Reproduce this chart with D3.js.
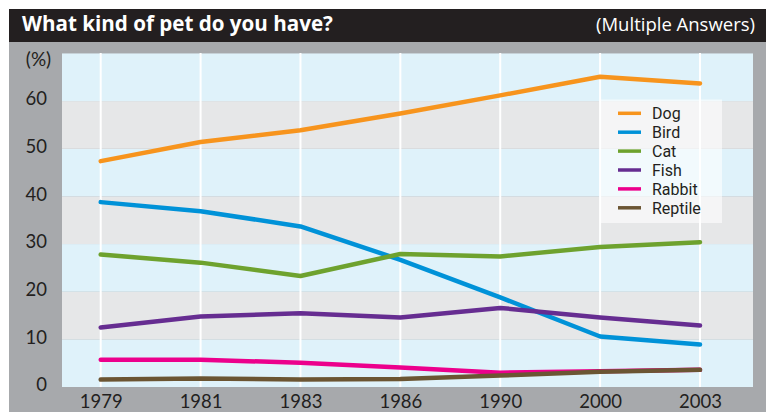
<!DOCTYPE html>
<html><head><meta charset="utf-8">
<script src="https://cdn.jsdelivr.net/npm/d3@7"></script>
<style>html,body{margin:0;padding:0;background:#fff;}svg{display:block;font-family:Lato,"Open Sans",sans-serif;}</style>
</head><body><svg id="c" width="774" height="412"></svg>
<script>
const years = ["1979","1981","1983","1986","1990","2000","2003"];
const seriesNames = ["Dog","Bird","Cat","Fish","Rabbit","Reptile"];
const dog = [47.4, 51.4, 53.9, 57.4, 61.2, 65.1, 63.7];
const bird = [38.8, 36.9, 33.7, 26.7, 18.8, 10.6, 8.9];
const cat = [27.8, 26.1, 23.3, 27.9, 27.4, 29.4, 30.4];
const fish = [12.5, 14.8, 15.5, 14.6, 16.6, 14.6, 12.9];
const rabbit = [5.7, 5.7, 5.1, 4.1, 3.0, 3.3, 3.6];
const reptile = [1.55, 1.8, 1.55, 1.7, 2.4, 3.2, 3.6];
const yTicks = [0, 10, 20, 30, 40, 50, 60];
const colors = ["#f7941d", "#0092d8", "#6ea22e", "#662d91", "#ec008c", "#6b5533"];
const values = [dog, bird, cat, fish, rabbit, reptile];

const svg = d3.select("#c");
const FONT = "Lato, 'Open Sans', sans-serif";
const TFONT = "'Open Sans', sans-serif";
// frame
svg.append("rect").attr("x", 9).attr("y", 42).attr("width", 757).attr("height", 370).attr("fill", "#a7a9ac");
svg.append("rect").attr("x", 9).attr("y", 9).attr("width", 757).attr("height", 33).attr("fill", "#231f20");
svg.append("text").attr("x", 22).attr("y", 31).attr("fill", "#fff").attr("font-weight", "bold")
  .attr("font-family", TFONT).attr("font-size", 20.6).text("What kind of pet do you have?");
svg.append("text").attr("x", 755).attr("y", 31).attr("fill", "#fff").attr("text-anchor", "end")
  .attr("font-family", TFONT).attr("font-size", 18.5).text("(Multiple Answers)");

const plot = {x0: 62, x1: 753, y0: 53, y1: 387};
const y = d3.scaleLinear().domain([0, 70]).range([plot.y1, plot.y1 - 70 * 4.765]);
const x = d3.scalePoint().domain(years).range([100.7, 700]);

// bands
const bands = d3.range(0, 70, 10);
svg.append("g").selectAll("rect").data(bands).join("rect")
  .attr("x", plot.x0).attr("width", plot.x1 - plot.x0)
  .attr("y", d => Math.max(plot.y0, y(d + 10)))
  .attr("height", d => y(d) - Math.max(plot.y0, y(d + 10)))
  .attr("fill", d => (d / 10) % 2 === 0 ? "#dff2fa" : "#e6e7e8");
// vertical gridlines
svg.append("g").selectAll("line").data(years).join("line")
  .attr("x1", d => x(d)).attr("x2", d => x(d)).attr("y1", plot.y0).attr("y2", plot.y1)
  .attr("stroke", "#fff").attr("stroke-width", 2);

// y axis
const yAxis = svg.append("g").attr("transform", `translate(47,0)`)
  .call(d3.axisLeft(y).tickValues(yTicks).tickSize(0).tickPadding(0));
yAxis.select(".domain").remove();
yAxis.selectAll("text").attr("font-size", 18.5).attr("fill", "#231f20").attr("font-family", FONT).attr("dy", "0.2em");
svg.append("text").attr("x", 38.5).attr("y", 66).attr("text-anchor", "middle").attr("font-size", 19)
  .attr("font-family", FONT).attr("fill", "#231f20").text("(%)");

// x axis
const xAxis = svg.append("g").attr("transform", `translate(0,${plot.y1})`)
  .call(d3.axisBottom(x).tickSize(0).tickPadding(0));
xAxis.select(".domain").remove();
xAxis.selectAll("text").attr("font-size", 18.5).attr("fill", "#231f20").attr("font-family", FONT)
  .attr("y", 0).attr("dy", 20.5);

// lines
const line = d3.line().x((d, i) => x(years[i])).y(d => y(d));
svg.append("g").selectAll("path").data(values).join("path")
  .attr("d", d => line(d)).attr("fill", "none")
  .attr("stroke", (d, i) => colors[i]).attr("stroke-width", 4.5)
  .attr("stroke-linecap", "round").attr("stroke-linejoin", "round");

// legend
const lg = svg.append("g");
lg.append("rect").attr("x", 599.5).attr("y", 99.5).attr("width", 122.5).attr("height", 123.5)
  .attr("fill", "#fff").attr("fill-opacity", 0.6);
const items = lg.selectAll("g").data(seriesNames).join("g")
  .attr("transform", (d, i) => `translate(0,${113.3 + i * 18.9})`);
items.append("line").attr("x1", 618).attr("x2", 641).attr("stroke", (d, i) => colors[i]).attr("stroke-width", 3.5);
items.append("text").attr("x", 652).attr("dy", "0.36em").attr("font-size", 16).attr("fill", "#231f20")
  .attr("font-family", "Roboto, sans-serif").text(d => d);
</script></body></html>
